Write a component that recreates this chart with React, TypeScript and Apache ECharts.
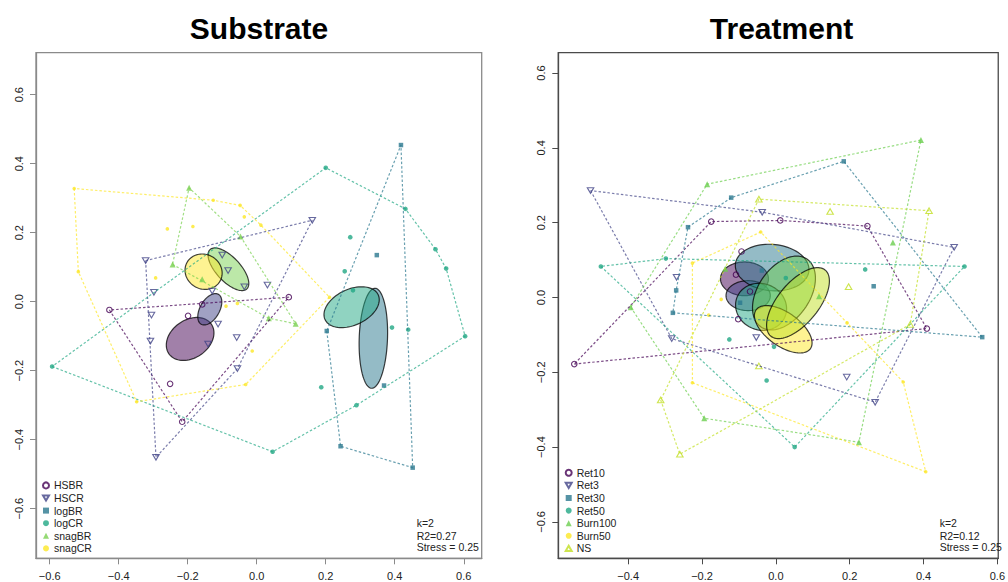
import React, { useEffect, useRef } from "react";
import * as echarts from "echarts";

// ---------------- Data ----------------
const substrateGroups = ["HSBR", "HSCR", "logBR", "logCR", "snagBR", "snagCR"];
const substrateColors = ["#440154", "#414487", "#2A788E", "#22A884", "#7AD151", "#FDE725"];
const substrateSymbols = ["openCircle", "downTri", "square", "dot", "triangle", "smallDot"];

const HSBR = [[-0.427, -0.024], [0.093, 0.013], [-0.158, -0.008], [-0.199, -0.041], [-0.251, -0.238], [-0.216, -0.348]];
const HSCR = [[0.161, 0.236], [-0.322, 0.119], [-0.298, 0.027], [0.031, 0.048], [-0.1, 0.135], [-0.083, 0.09], [-0.036, 0.043], [-0.129, 0.031], [-0.305, -0.039], [-0.308, -0.114], [-0.112, -0.065], [-0.058, -0.104], [-0.141, -0.123], [-0.056, -0.194], [-0.292, -0.451]];
const logBR = [[0.418, 0.454], [0.348, 0.135], [0.203, -0.085], [0.369, -0.243], [0.243, -0.419], [0.452, -0.481]];
const logCR = [[0.2, 0.388], [0.431, 0.269], [0.271, 0.187], [0.518, 0.152], [0.549, 0.096], [0.255, 0.088], [0.279, 0.033], [0.392, -0.075], [0.439, -0.081], [0.604, -0.1], [0.187, -0.248], [0.289, -0.3], [0.046, -0.435], [-0.593, -0.188]];
const snagBR = [[-0.196, 0.33], [-0.244, 0.108], [-0.047, 0.189], [-0.158, 0.065], [0.035, -0.048], [0.113, -0.064]];
const snagCR = [[-0.529, 0.328], [-0.517, 0.087], [-0.126, 0.294], [-0.048, 0.279], [-0.036, 0.246], [0.012, 0.222], [-0.259, 0.211], [-0.185, 0.218], [-0.293, 0.069], [0.211, 0.013], [-0.089, -0.013], [-0.056, -0.005], [-0.013, -0.143], [-0.032, -0.24], [-0.348, -0.29]];
const substrateData = [HSBR, HSCR, logBR, logCR, snagBR, snagCR];

// ellipse (centre x, centre y, semi-axis a, semi-axis b, angle deg)
const substrateEllCx = [-0.193, -0.136, 0.338, 0.275, -0.082, -0.154];
const substrateEllCy = [-0.108, -0.022, -0.106, -0.016, 0.094, 0.087];
const substrateEllA = [0.075, 0.05, 0.145, 0.085, 0.078, 0.055];
const substrateEllB = [0.055, 0.028, 0.041, 0.052, 0.035, 0.05];
const substrateEllAng = [35, 60, 88, 25, -47, -30];

const treatmentGroups = ["Ret10", "Ret3", "Ret30", "Ret50", "Burn100", "Burn50", "NS"];
const treatmentColors = ["#440154", "#414487", "#2A788E", "#22A884", "#6CCE4F", "#FDE725", "#C2DF23"];
const treatmentSymbols = ["openCircle", "downTri", "square", "dot", "triangle", "smallDot", "upTri"];

const Ret10 = [[-0.175, 0.203], [0.012, 0.206], [0.248, 0.191], [-0.093, 0.123], [-0.108, 0.061], [-0.07, 0.016], [-0.546, -0.178], [0.409, -0.083], [-0.102, -0.058]];
const Ret3 = [[-0.502, 0.286], [-0.037, 0.228], [0.483, 0.134], [-0.269, 0.054], [-0.282, -0.11], [-0.053, -0.107], [0.192, -0.213], [0.269, -0.28]];
const Ret30 = [[0.184, 0.364], [-0.121, 0.267], [-0.238, 0.188], [-0.27, 0.019], [0.265, 0.03], [-0.038, 0.072], [-0.279, -0.041], [0.559, -0.106], [-0.097, -0.014]];
const Ret50 = [[-0.474, 0.083], [-0.298, 0.104], [0.511, 0.083], [0.242, 0.075], [0.027, 0.052], [-0.126, -0.112], [-0.005, -0.132], [-0.025, -0.222], [0.051, -0.4]];
const Burn100 = [[-0.186, 0.303], [0.393, 0.421], [0.317, 0.147], [-0.137, 0.077], [0.117, 0.003], [-0.393, -0.026], [-0.194, -0.323], [0.225, -0.387]];
const Burn50 = [[-0.041, 0.175], [-0.226, 0.092], [-0.148, -0.005], [-0.182, -0.047], [0.193, -0.068], [-0.226, -0.228], [0.345, -0.226], [0.406, -0.466]];
const NS = [[-0.046, 0.263], [0.147, 0.23], [0.415, 0.232], [0.197, 0.029], [0.364, -0.072], [-0.046, -0.183], [-0.312, -0.274], [-0.26, -0.419]];
const treatmentData = [Ret10, Ret3, Ret30, Ret50, Burn100, Burn50, NS];

const treatmentEllCx = [-0.085, -0.075, -0.01, -0.04, 0.022, 0.02, 0.06];
const treatmentEllCy = [0.05, 0.005, 0.08, -0.025, 0.012, -0.085, -0.015];
const treatmentEllA = [0.065, 0.06, 0.1, 0.07, 0.11, 0.09, 0.115];
const treatmentEllB = [0.045, 0.04, 0.062, 0.062, 0.07, 0.045, 0.055];
const treatmentEllAng = [0, 0, -5, -20, 55, -35, 50];

const tickValues = [-0.6, -0.4, -0.2, 0, 0.2, 0.4, 0.6];
const substrateStats = ["k=2", "R2=0.27", "Stress = 0.25"];
const treatmentStats = ["k=2", "R2=0.12", "Stress = 0.25"];

// ---------------- Helpers ----------------
const FONT = '"Liberation Sans", Arial, Helvetica, sans-serif';

function hexA(hex: string, a: number) {
  const h = hex.replace("#", "");
  const r = parseInt(h.slice(0, 2), 16), g = parseInt(h.slice(2, 4), 16), b = parseInt(h.slice(4, 6), 16);
  return `rgba(${r},${g},${b},${a})`;
}

function convexHull(pts: number[][]) {
  const p = pts.slice().sort((a, b) => a[0] - b[0] || a[1] - b[1]);
  const cross = (o: number[], a: number[], b: number[]) => (a[0] - o[0]) * (b[1] - o[1]) - (a[1] - o[1]) * (b[0] - o[0]);
  const lower: number[][] = [];
  for (const q of p) {
    while (lower.length >= 2 && cross(lower[lower.length - 2], lower[lower.length - 1], q) <= 0) lower.pop();
    lower.push(q);
  }
  const upper: number[][] = [];
  for (let i = p.length - 1; i >= 0; i--) {
    const q = p[i];
    while (upper.length >= 2 && cross(upper[upper.length - 2], upper[upper.length - 1], q) <= 0) upper.pop();
    upper.push(q);
  }
  upper.pop();
  lower.pop();
  const h = lower.concat(upper);
  h.push(h[0]);
  return h;
}

function ellipsePts(cx: number, cy: number, a: number, b: number, angDeg: number) {
  const th = (angDeg * Math.PI) / 180;
  const out: number[][] = [];
  for (let i = 0; i < 90; i++) {
    const t = (i / 90) * Math.PI * 2;
    out.push([
      cx + a * Math.cos(t) * Math.cos(th) - b * Math.sin(t) * Math.sin(th),
      cy + a * Math.cos(t) * Math.sin(th) + b * Math.sin(t) * Math.cos(th),
    ]);
  }
  return out;
}

function symbolStyle(kind: string, color: string) {
  const open = { color: "rgba(0,0,0,0)", borderColor: color, borderWidth: 1.1 };
  const fill = { color, borderWidth: 0 };
  switch (kind) {
    case "openCircle":
      return { symbol: "circle", symbolSize: 5.5, itemStyle: open };
    case "downTri":
      return { symbol: "path://M0,0L10,0L5,8.66Z", symbolSize: [6.5, 5.6], itemStyle: open };
    case "upTri":
      return { symbol: "path://M5,0L10,8.66L0,8.66Z", symbolSize: [6.5, 5.6], itemStyle: open };
    case "square":
      return { symbol: "rect", symbolSize: 4.5, itemStyle: fill };
    case "dot":
      return { symbol: "circle", symbolSize: 4.6, itemStyle: fill };
    case "triangle":
      return { symbol: "triangle", symbolSize: 6, itemStyle: fill };
    default:
      return { symbol: "circle", symbolSize: 3.6, itemStyle: fill };
  }
}

const fmt = (v: number) => (Math.abs(v) < 1e-9 ? "0.0" : (v < 0 ? "\u2212" : "") + Math.abs(v).toFixed(1));

function makeAxis(gridIndex: number, min: number, max: number, isY: boolean, lineColor: string) {
  return {
    type: "value",
    gridIndex,
    min,
    max,
    position: isY ? "left" : "bottom",
    splitLine: { show: false },
    axisLine: { show: true, onZero: false, lineStyle: { color: lineColor, width: 1.3 } },
    axisTick: { show: true, inside: false, length: 6, customValues: tickValues, lineStyle: { color: lineColor, width: 1 } },
    axisLabel: {
      show: true,
      customValues: tickValues,
      formatter: fmt,
      rotate: isY ? 90 : 0,
      margin: 12,
      fontSize: 11,
      color: "#222",
      fontFamily: FONT,
    },
  };
}

function buildSeries(
  groups: string[], colors: string[], symbols: string[], data: number[][][],
  ecx: number[], ecy: number[], ea: number[], eb: number[], eang: number[], axisIndex: number
) {
  const series: any[] = [];
  groups.forEach((g, i) => {
    const s = symbolStyle(symbols[i], colors[i]);
    series.push({
      type: "scatter",
      name: g,
      xAxisIndex: axisIndex,
      yAxisIndex: axisIndex,
      data: data[i],
      symbol: s.symbol,
      symbolSize: s.symbolSize,
      itemStyle: s.itemStyle,
      silent: true,
    });
  });
  groups.forEach((g, i) => {
    series.push({
      type: "line",
      name: g + " hull",
      xAxisIndex: axisIndex,
      yAxisIndex: axisIndex,
      data: convexHull(data[i]),
      showSymbol: false,
      symbol: "none",
      silent: true,
      lineStyle: { color: hexA(colors[i], 0.7), width: 1.2, type: [2.5, 2] },
    });
  });
  series.push({
    type: "custom",
    name: "ellipses" + axisIndex,
    xAxisIndex: axisIndex,
    yAxisIndex: axisIndex,
    silent: true,
    data: ecx.map((c, i) => [c, ecy[i]]),
    renderItem: (params: any, api: any) => {
      const i = params.dataIndex;
      const pts = ellipsePts(ecx[i], ecy[i], ea[i], eb[i], eang[i]).map((p) => api.coord(p));
      return {
        type: "polygon",
        shape: { points: pts },
        style: { fill: hexA(colors[i], 0.5), stroke: "rgba(0,0,0,0.75)", lineWidth: 1.2 },
      };
    },
  });
  return series;
}

function statsText(x: number, lines: string[]) {
  const ys = [522.7, 535.5, 547.3];
  return lines.map((t, i) => ({
    type: "text",
    x,
    y: ys[i],
    style: { text: t, font: `10.5px ${FONT}`, fill: "#222", textAlign: "left", textVerticalAlign: "middle", align: "left", verticalAlign: "middle" },
  }));
}

function legendFor(groups: string[], left: number, top: number) {
  return {
    data: groups,
    orient: "vertical",
    left,
    top,
    itemWidth: 6,
    itemHeight: 6,
    itemGap: 1.6,
    padding: 0,
    selectedMode: false,
    textStyle: { fontSize: 10.5, color: "#222", fontFamily: FONT },
  };
}

export default function App() {
  const ref = useRef<HTMLDivElement>(null);
  useEffect(() => {
    if (!ref.current) return;
    const chart = echarts.init(ref.current, undefined, { renderer: "svg" });
    const leftBorder = "#8a8a8a";
    const rightBorder = "#4a4a4a";
    const option: any = {
      animation: false,
      backgroundColor: "#fff",
      textStyle: { fontFamily: FONT },
      grid: [
        { left: 36, top: 52.7, width: 445.7, height: 505.6, show: true, borderColor: leftBorder, borderWidth: 1.3, backgroundColor: "transparent" },
        { left: 558.3, top: 52.7, width: 445.7, height: 505.6, show: true, borderColor: rightBorder, borderWidth: 1.3, backgroundColor: "transparent" },
      ],
      xAxis: [makeAxis(0, -0.6397, 0.652, false, leftBorder), makeAxis(1, -0.5893, 0.6024, false, rightBorder)],
      yAxis: [makeAxis(0, -0.7438, 0.7217, true, leftBorder), makeAxis(1, -0.6973, 0.6545, true, rightBorder)],
      legend: [legendFor(substrateGroups, 42, 479.9), legendFor(treatmentGroups, 564.7, 467.3)],
      graphic: [
        {
          type: "text",
          x: 259,
          y: 28,
          style: { text: "Substrate", font: `bold 30px ${FONT}`, fill: "#000", textAlign: "center", textVerticalAlign: "middle", align: "center", verticalAlign: "middle" },
        },
        {
          type: "text",
          x: 781.5,
          y: 28,
          style: { text: "Treatment", font: `bold 30px ${FONT}`, fill: "#000", textAlign: "center", textVerticalAlign: "middle", align: "center", verticalAlign: "middle" },
        },
        ...statsText(416.7, substrateStats),
        ...statsText(939.7, treatmentStats),
      ],
      series: [
        ...buildSeries(substrateGroups, substrateColors, substrateSymbols, substrateData,
          substrateEllCx, substrateEllCy, substrateEllA, substrateEllB, substrateEllAng, 0),
        ...buildSeries(treatmentGroups, treatmentColors, treatmentSymbols, treatmentData,
          treatmentEllCx, treatmentEllCy, treatmentEllA, treatmentEllB, treatmentEllAng, 1),
      ],
    };
    chart.setOption(option);
    return () => chart.dispose();
  }, []);
  return <div ref={ref} style={{ position: "fixed", left: 0, top: 0, width: 1008, height: 582 }} />;
}
